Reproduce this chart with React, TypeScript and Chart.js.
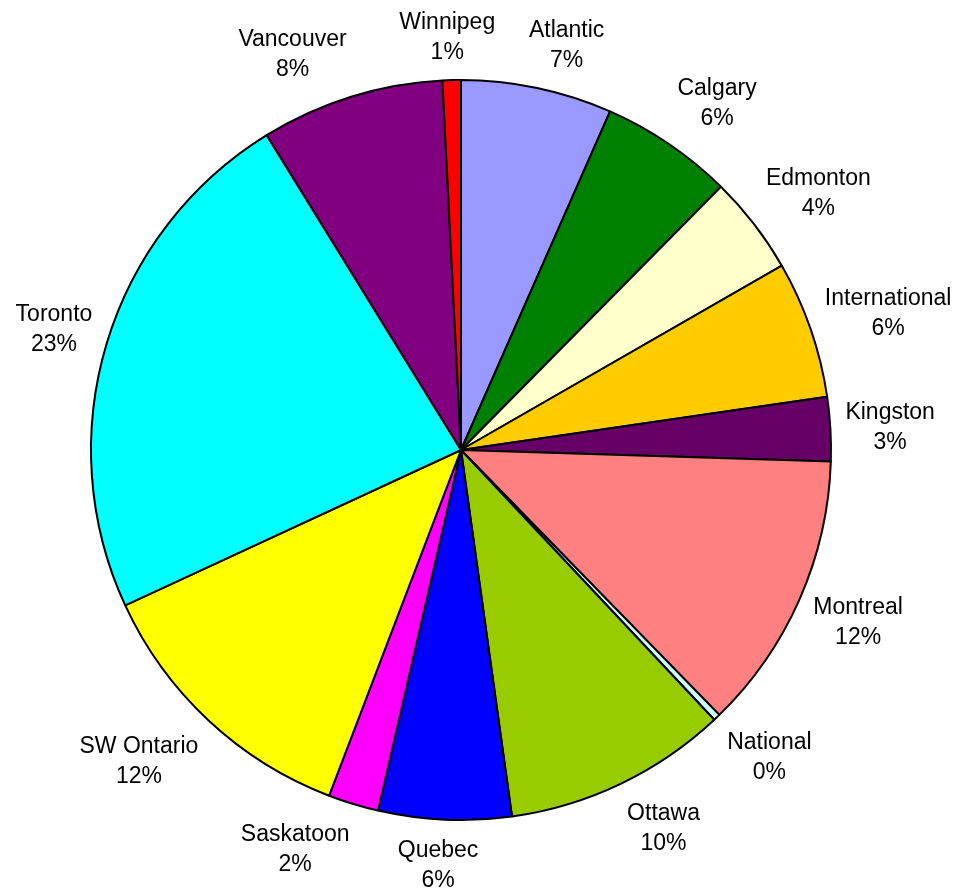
import React, { useEffect, useRef } from "react";
import { Chart, registerables } from "chart.js";

Chart.register(...registerables);

// ---- Data ----
const regions: string[] = [
  "Atlantic",
  "Calgary",
  "Edmonton",
  "International",
  "Kingston",
  "Montreal",
  "National",
  "Ottawa",
  "Quebec",
  "Saskatoon",
  "SW Ontario",
  "Toronto",
  "Vancouver",
  "Winnipeg",
];
const shares: number[] = [6.6, 5.8, 4.3, 6.0, 2.8, 12.2, 0.3, 9.8, 5.8, 2.2, 12.3, 23.1, 8.0, 0.8];

// ---- Palette ----
const palette: string[] = [
  "#9999FF",
  "#008000",
  "#FFFFCC",
  "#FFCC00",
  "#660066",
  "#FF8080",
  "#CCFFFF",
  "#99CC00",
  "#0000FF",
  "#FF00FF",
  "#FFFF00",
  "#00FFFF",
  "#800080",
  "#FF0000",
];

const FONT_PX = 23;
const LINE_GAP = 30;

const clamp1 = (v: number) => Math.max(-1, Math.min(1, v));

// Outside-end labels: box pushed outward along the slice's mid angle
const outsideLabels = {
  id: "outsideLabels",
  afterDatasetsDraw(chart: any) {
    const ctx: CanvasRenderingContext2D = chart.ctx;
    const meta = chart.getDatasetMeta(0);
    const data = chart.data.datasets[0].data as number[];
    const total = data.reduce((a, b) => a + b, 0);
    const GX = 15;
    const GY = 12;
    const HH = 32;
    const KX = 3.4;
    const KY = 1.3;
    ctx.save();
    ctx.font = `${FONT_PX}px "Liberation Sans", Arial, sans-serif`;
    ctx.fillStyle = "#000000";
    ctx.textAlign = "center";
    ctx.textBaseline = "alphabetic";
    const capShift = 0.358 * FONT_PX;
    meta.data.forEach((arc: any, i: number) => {
      const p = arc.getProps(["x", "y", "startAngle", "endAngle", "outerRadius"], true);
      const name = String(chart.data.labels[i]);
      const pct = Math.round((data[i] / total) * 100) + "%";
      const hw = Math.max(ctx.measureText(name).width, ctx.measureText(pct).width) / 2;
      const a = (p.startAngle + p.endAngle) / 2;
      const ux = Math.cos(a);
      const uy = Math.sin(a);
      const cx = p.x + ux * (p.outerRadius + GX) + hw * clamp1(KX * ux);
      const cy = p.y + uy * (p.outerRadius + GY) + HH * clamp1(KY * uy);
      ctx.fillText(name, cx, cy - LINE_GAP / 2 + capShift);
      ctx.fillText(pct, cx, cy + LINE_GAP / 2 + capShift);
    });
    ctx.restore();
  },
};

export default function App() {
  const canvasRef = useRef<HTMLCanvasElement | null>(null);

  useEffect(() => {
    if (!canvasRef.current) return;
    const chart = new Chart(canvasRef.current, {
      type: "pie",
      data: {
        labels: regions,
        datasets: [
          {
            data: shares,
            backgroundColor: palette,
            borderColor: "#000000",
            borderWidth: 2,
            hoverOffset: 0,
          },
        ],
      },
      options: {
        responsive: false,
        animation: false,
        layout: { padding: { left: 90, top: 79, right: 124, bottom: 67 } },
        plugins: {
          legend: { display: false },
          tooltip: { enabled: false },
          title: { display: false },
        },
      },
      plugins: [outsideLabels],
    });
    return () => chart.destroy();
  }, []);

  return (
    <div style={{ position: "fixed", left: 0, top: 0, width: 956, height: 888, background: "#ffffff" }}>
      <canvas ref={canvasRef} width={956} height={888} style={{ display: "block" }} />
    </div>
  );
}
